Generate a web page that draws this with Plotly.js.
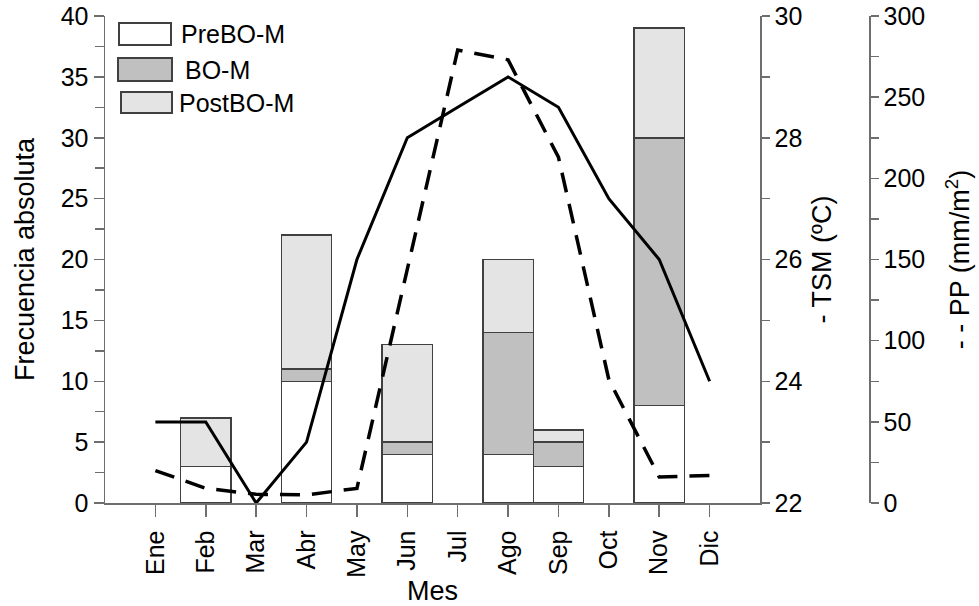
<!DOCTYPE html>
<html>
<head>
<meta charset="utf-8">
<script src="https://cdn.plot.ly/plotly-3.0.1.min.js"></script>
<style>html,body{margin:0;padding:0;background:#fff;}#chart{width:979px;height:606px;}</style>
</head>
<body>
<div id="chart"></div>
<script>
// ---- data ----
const months = ['Ene','Feb','Mar','Abr','May','Jun','Jul','Ago','Sep','Oct','Nov','Dic'];
const seriesNames = ['PreBO-M','BO-M','PostBO-M'];
const preBO  = [null,3,null,10,null,4,null,4,3,null,8,null];
const bo     = [null,null,null,1,null,1,null,10,2,null,22,null];
const postBO = [null,4,null,11,null,8,null,6,1,null,9,null];
const tsm = [23.33,23.33,22.0,23.0,26.0,28.0,28.5,29.0,28.5,27.0,26.0,24.0];
const pp  = [20,9,5.4,5,9,143,279,273,213,76,16,17];

// ---- geometry (pixels) ----
const W = 979, H = 606;
const L = 105, R = 60, T = 16, B = 103;
const plotW = W - L - R, plotH = H - T - B;
const xEnd = (760 - L) / plotW;
const ppPos = (869 - L) / plotW;
const px = v => (v - L) / plotW;
const py = v => (H - B - v) / plotH;

const FONT = 'Liberation Sans, Arial, sans-serif';
const AX = '#6e6e6e';
const EDGE = '#404040';
const fills = ['#ffffff', '#c0c0c0', '#e4e4e4'];
const stacks = [preBO, bo, postBO];

const traces = stacks.map((vals, i) => ({
  type: 'bar', x: months, y: vals, name: seriesNames[i],
  width: 1,
  marker: {color: fills[i], line: {color: EDGE, width: 1.5}},
  showlegend: false, hoverinfo: 'x+y+name'
}));
traces.push({
  type: 'scatter', mode: 'lines', x: months, y: tsm, yaxis: 'y2', name: 'TSM',
  line: {color: '#000', width: 3}, showlegend: false
});
traces.push({
  type: 'scatter', mode: 'lines', x: months, y: pp, yaxis: 'y3', name: 'PP',
  line: {color: '#000', width: 3.5, dash: '20px,12px'}, showlegend: false
});

// custom legend (large swatches like the original)
const legendBoxes = [[119, 23, 171, 45], [118, 58, 172, 81], [121, 92, 172, 113]];
const legendTextX = [179, 183, 177];
const shapes = legendBoxes.map((b, i) => ({
  type: 'rect', xref: 'paper', yref: 'paper',
  x0: px(b[0]), x1: px(b[2]), y0: py(b[3]), y1: py(b[1]),
  fillcolor: fills[i], line: {color: EDGE, width: 2}
}));
const annotations = legendBoxes.map((b, i) => ({
  xref: 'paper', yref: 'paper', x: px(legendTextX[i]), y: py((b[1] + b[3]) / 2),
  xanchor: 'left', yanchor: 'middle', showarrow: false,
  text: seriesNames[i], font: {family: FONT, size: 25, color: '#000'}
}));

const tickFont = {family: FONT, size: 25, color: '#000'};
const titleFont = {family: FONT, size: 27, color: '#000'};

const layout = {
  width: W, height: H,
  margin: {l: L, r: R, t: T, b: B, pad: 0},
  paper_bgcolor: '#fff', plot_bgcolor: 'rgba(0,0,0,0)',
  barmode: 'stack', bargap: 0,
  showlegend: false,
  font: {family: FONT, color: '#000'},
  xaxis: {
    domain: [0, xEnd], type: 'category', categoryorder: 'array', categoryarray: months,
    range: [-1, 12], showgrid: false, zeroline: false,
    showline: true, linecolor: AX, linewidth: 1.5,
    ticks: 'outside', ticklen: 12, tickcolor: AX, tickwidth: 1.5,
    ticklabelstandoff: 4,
    tickangle: -90, tickfont: tickFont,
    title: {text: 'Mes', font: titleFont, standoff: 10},
    automargin: false
  },
  yaxis: {
    range: [0, 40], dtick: 5, showgrid: false, zeroline: false,
    showline: true, linecolor: AX, linewidth: 1.5,
    ticks: 'outside', ticklen: 10, tickcolor: AX, tickwidth: 1.5,
    minor: {dtick: 2.5, ticks: 'outside', ticklen: 9, tickcolor: AX, tickwidth: 1.5},
    tickfont: tickFont,
    title: {text: 'Frecuencia absoluta', font: titleFont, standoff: 18},
    automargin: false
  },
  yaxis2: {
    overlaying: 'y', side: 'right', anchor: 'x',
    range: [22, 30], dtick: 2, showgrid: false, zeroline: false,
    showline: true, linecolor: AX, linewidth: 1.5,
    ticks: 'outside', ticklen: 8, tickcolor: AX, tickwidth: 1.5,
    minor: {dtick: 1, ticks: 'outside', ticklen: 8, tickcolor: AX, tickwidth: 1.5},
    tickfont: tickFont,
    title: {text: '- TSM (ºC)', font: titleFont, standoff: 10},
    automargin: false
  },
  yaxis3: {
    overlaying: 'y', side: 'right', anchor: 'free', position: ppPos,
    range: [0, 300], dtick: 50, showgrid: false, zeroline: false,
    showline: true, linecolor: AX, linewidth: 1.5,
    ticks: 'outside', ticklen: 8, tickcolor: AX, tickwidth: 1.5,
    minor: {dtick: 25, ticks: 'outside', ticklen: 8, tickcolor: AX, tickwidth: 1.5},
    tickfont: tickFont,
    title: {text: '- - PP (mm/m<sup>2</sup>)', font: titleFont, standoff: 26},
    automargin: false
  },
  shapes: shapes,
  annotations: annotations
};

Plotly.newPlot('chart', traces, layout, {displayModeBar: false, staticPlot: true});
</script>
</body>
</html>
